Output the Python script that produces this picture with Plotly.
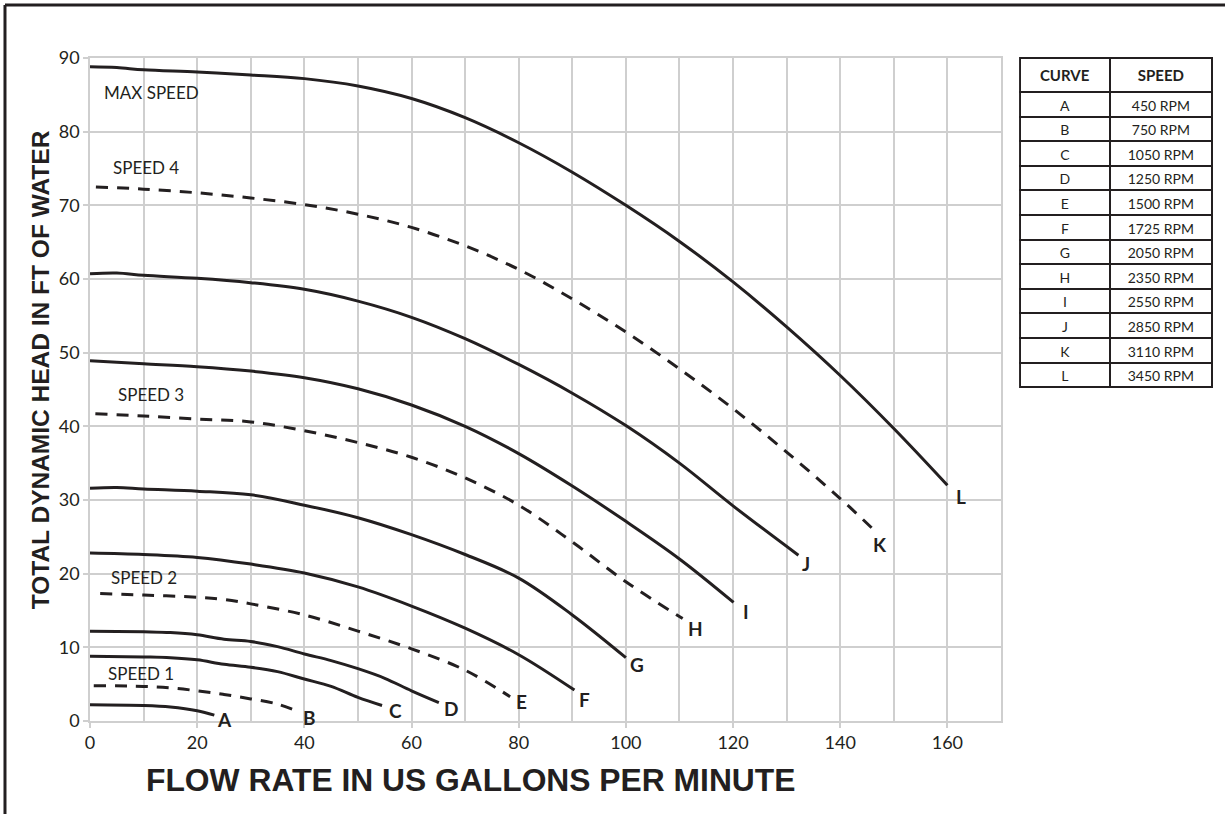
import plotly.graph_objects as go

# ---------------- data ----------------
curve_names = ["A", "B", "C", "D", "E", "F", "G", "H", "I", "J", "K", "L"]
curve_speeds = ["450 RPM", "750 RPM", "1050 RPM", "1250 RPM", "1500 RPM", "1725 RPM",
                "2050 RPM", "2350 RPM", "2550 RPM", "2850 RPM", "3110 RPM", "3450 RPM"]

A_x = [0, 10, 15, 20, 23.2]
A_y = [2.2, 2.1, 1.9, 1.4, 0.8]

B_x = [0.7, 10, 15, 20, 25, 30, 35, 39.1]
B_y = [4.8, 4.7, 4.5, 4.1, 3.6, 3.0, 2.3, 1.2]

C_x = [0, 10, 15, 20, 25, 30, 35, 40, 45, 50, 54.5]
C_y = [8.8, 8.7, 8.6, 8.3, 7.7, 7.3, 6.7, 5.7, 4.7, 3.2, 2.1]

D_x = [0, 10, 15, 20, 25, 30, 35, 40, 45, 50, 55, 60, 65.1]
D_y = [12.2, 12.1, 12.0, 11.7, 11.1, 10.8, 10.1, 9.1, 8.2, 7.1, 5.8, 4.1, 2.5]

E_x = [1.9, 10, 20, 25, 30, 40, 50, 60, 70, 78.4]
E_y = [17.3, 17.1, 16.8, 16.5, 15.9, 14.4, 12.2, 9.8, 6.9, 3.3]

F_x = [0, 10, 20, 30, 40, 50, 60, 70, 80, 90.4]
F_y = [22.8, 22.6, 22.2, 21.3, 20.1, 18.2, 15.6, 12.6, 9.0, 4.2]

G_x = [0, 5, 10, 20, 30, 40, 50, 60, 70, 80, 90, 100]
G_y = [31.6, 31.7, 31.5, 31.2, 30.7, 29.3, 27.6, 25.3, 22.6, 19.4, 14.4, 8.6]

H_x = [1, 10, 20, 30, 40, 50, 60, 70, 80, 90, 100, 110.6]
H_y = [41.7, 41.4, 41.0, 40.6, 39.4, 37.8, 35.8, 33.0, 29.3, 24.3, 18.9, 13.9]

I_x = [0, 10, 20, 30, 40, 50, 60, 70, 80, 90, 100, 110, 120.1]
I_y = [48.9, 48.5, 48.1, 47.5, 46.6, 45.1, 42.9, 40.0, 36.3, 31.9, 27.1, 22.0, 16.1]

J_x = [0, 5, 10, 20, 30, 40, 50, 60, 70, 80, 90, 100, 110, 120, 132.2]
J_y = [60.7, 60.8, 60.5, 60.1, 59.5, 58.6, 57.0, 54.8, 51.9, 48.4, 44.5, 40.1, 35.0, 29.2, 22.5]

K_x = [1.1, 10, 20, 30, 40, 50, 60, 70, 80, 90, 100, 110, 120, 130, 140, 146.2]
K_y = [72.5, 72.2, 71.7, 71.0, 70.1, 68.8, 67.0, 64.5, 61.3, 57.3, 52.8, 47.8, 42.4, 36.5, 30.2, 26.0]

L_x = [0, 5, 10, 20, 30, 40, 50, 60, 70, 80, 90, 100, 110, 120, 130, 140, 150, 160]
L_y = [88.8, 88.7, 88.4, 88.1, 87.7, 87.2, 86.2, 84.5, 81.9, 78.5, 74.5, 70.0,
       65.1, 59.6, 53.5, 46.9, 39.7, 32.0]

dashed_curves = ["B", "E", "H", "K"]

speed_labels = ["MAX SPEED", "SPEED 4", "SPEED 3", "SPEED 2", "SPEED 1"]
speed_label_x = [2.2, 3.9, 4.8, 3.5, 3.0]
speed_label_y = [85.3, 75.2, 44.3, 19.5, 6.5]

x_ticks = [0, 20, 40, 60, 80, 100, 120, 140, 160]
y_ticks = [0, 10, 20, 30, 40, 50, 60, 70, 80, 90]

curves = {
    "A": (A_x, A_y), "B": (B_x, B_y), "C": (C_x, C_y), "D": (D_x, D_y),
    "E": (E_x, E_y), "F": (F_x, F_y), "G": (G_x, G_y), "H": (H_x, H_y),
    "I": (I_x, I_y), "J": (J_x, J_y), "K": (K_x, K_y), "L": (L_x, L_y),
}

# pixel offsets of the end letters relative to the curve end point (right, down)
letter_offsets = {
    "A": (10, 4), "B": (10, 5), "C": (13, 5), "D": (12, 6), "E": (11, 5), "F": (10, 9),
    "G": (11, 7), "H": (13, 10), "I": (12, 9), "J": (8, 8), "K": (7, 15), "L": (14, 11),
}

INK = "#231f20"
GRID = "#cfcfcf"
TXT_FONT = "Lato, Open Sans, sans-serif"
BOLD_FONT = "Liberation Sans, Arial, sans-serif"

fig = go.Figure()

for name in curve_names:
    xs, ys = curves[name]
    fig.add_trace(go.Scatter(
        x=xs, y=ys, mode="lines", name=name, showlegend=False, hoverinfo="skip",
        line=dict(color=INK, width=3, shape="spline", smoothing=1.0,
                  dash="12px,9px" if name in dashed_curves else "solid"),
        xaxis="x", yaxis="y",
    ))

annotations = []
for name in curve_names:
    xs, ys = curves[name]
    dx, dy = letter_offsets[name]
    annotations.append(dict(
        x=xs[-1], y=ys[-1], xref="x", yref="y", text="<b>%s</b>" % name,
        showarrow=False, xshift=dx, yshift=-dy, xanchor="center", yanchor="middle",
        font=dict(family=TXT_FONT, size=19, color=INK),
    ))

for t, lx, ly in zip(speed_labels, speed_label_x, speed_label_y):
    annotations.append(dict(
        x=lx, y=ly, xref="x", yref="y", text=t, showarrow=False,
        xanchor="left", yanchor="middle",
        font=dict(family=TXT_FONT, size=17, color=INK),
    ))

# axis titles
annotations.append(dict(
    x=-0.0445, y=0.529, xref="paper", yref="paper", textangle=-90,
    text="<b>TOTAL DYNAMIC HEAD IN FT OF WATER</b>", showarrow=False,
    xanchor="center", yanchor="middle",
    font=dict(family=BOLD_FONT, size=24.5, color=INK),
))
annotations.append(dict(
    x=0.339, y=-0.089, xref="paper", yref="paper",
    text="<b>FLOW RATE IN US GALLONS PER MINUTE</b>", showarrow=False,
    xanchor="center", yanchor="middle",
    font=dict(family=BOLD_FONT, size=31.8, color=INK),
))

# speed table
fig.add_trace(go.Table(
    domain=dict(x=[0.8282, 1.0], y=[0.4, 1.0]),
    columnwidth=[90, 103],
    header=dict(values=["<b>CURVE</b>", "<b>SPEED</b>"], height=26,
                fill_color="white", line=dict(color=INK, width=2),
                align="center", font=dict(family=TXT_FONT, size=15, color=INK)),
    cells=dict(values=[curve_names, curve_speeds], height=24.6,
               fill_color="white", line=dict(color=INK, width=2),
               align="center", font=dict(family=TXT_FONT, size=14, color=INK)),
))

shapes = [
    dict(type="line", xref="paper", yref="paper", x0=-0.0757, x1=-0.0757, y0=-0.15, y1=1.0799,
         line=dict(color=INK, width=3)),
    dict(type="line", xref="paper", yref="paper", x0=-0.0757, x1=1.02, y0=1.0799, y1=1.0799,
         line=dict(color=INK, width=3)),
]

fig.update_layout(
    width=1225, height=814,
    margin=dict(l=90, r=12, t=58, b=93),
    paper_bgcolor="white", plot_bgcolor="white",
    annotations=annotations, shapes=shapes,
    xaxis=dict(domain=[0, 0.8112], range=[0, 170], tickvals=x_ticks,
               showgrid=True, gridcolor=GRID, gridwidth=1.5,
               minor=dict(dtick=10, tick0=0, showgrid=True, gridcolor=GRID, gridwidth=1.5),
               zeroline=False, showline=True, mirror=True, linecolor=GRID, linewidth=1.5,
               ticks="outside", ticklen=5, tickcolor=GRID, tickwidth=1.5,
               tickfont=dict(family=TXT_FONT, size=18, color=INK)),
    yaxis=dict(range=[0, 90], tickvals=y_ticks,
               showgrid=True, gridcolor=GRID, gridwidth=1.5,
               zeroline=False, showline=True, mirror=True, linecolor=GRID, linewidth=1.5,
               ticks="outside", ticklen=5, tickcolor=GRID, tickwidth=1.5,
               tickfont=dict(family=TXT_FONT, size=18, color=INK)),
)

fig.write_html("out.html", config={"displayModeBar": False},
               post_script="document.body.style.margin='0px';")
